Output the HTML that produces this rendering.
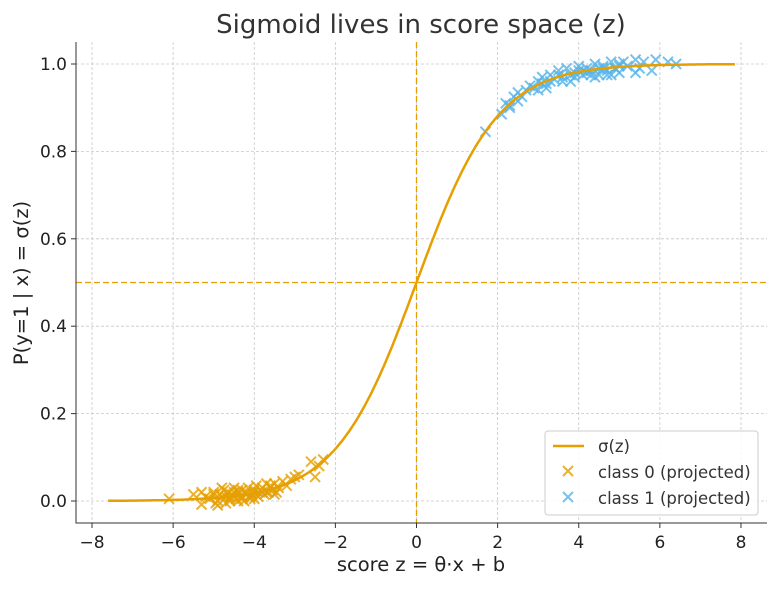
<!DOCTYPE html>
<html><head><meta charset="utf-8"><style>
body{margin:0;background:#fff}
svg{font-family:"DejaVu Sans","Liberation Sans",sans-serif}
</style></head><body>
<svg id="chart" width="779" height="586">
<text x="421" y="33" font-size="26" text-anchor="middle" fill="#333">Sigmoid lives in score space (z)</text>
<g id="grid"></g>
<g id="marks"></g>
<g id="axes"></g>
<text x="421" y="571" font-size="19.5" text-anchor="middle" fill="#222">score z = θ·x + b</text>
<text transform="translate(28,283) rotate(-90)" font-size="19.5" text-anchor="middle" fill="#222">P(y=1 | x) = σ(z)</text>
<g>
<rect x="545" y="431" width="213" height="84" rx="3" fill="#fff" fill-opacity="0.85" stroke="#ccc"/>
<line x1="553" y1="446" x2="584" y2="446" stroke="#E69F00" stroke-width="2.5"/>
<text x="598" y="452" font-size="16.5" fill="#333">σ(z)</text>
<path d="M563,466 l10,10 M573,466 l-10,10" stroke="#E69F00" stroke-width="2" opacity="0.8"/>
<text x="598" y="478" font-size="16.5" fill="#333">class 0 (projected)</text>
<path d="M563,492 l10,10 M573,492 l-10,10" stroke="#56B4E9" stroke-width="2" opacity="0.8"/>
<text x="598" y="504" font-size="16.5" fill="#333">class 1 (projected)</text>
</g>
</svg>
<script>
const xTicks=[-8,-6,-4,-2,0,2,4,6,8];
const yTicks=[0.0,0.2,0.4,0.6,0.8,1.0];
const class0Z=[-6.1,-5.5,-5.3,-5.2,-5.1,-5.0,-4.95,-4.9,-4.85,-4.8,-4.75,-4.7,-4.65,-4.6,-4.55,-4.5,-4.45,-4.4,-4.35,-4.3,-4.25,-4.2,-4.15,-4.1,-4.05,-4.0,-3.95,-3.9,-3.85,-3.8,-3.75,-3.7,-3.65,-3.6,-3.55,-3.5,-3.45,-3.4,-3.3,-3.2,-3.1,-3.0,-2.9,-2.6,-2.5,-2.4,-2.3,-4.9,-4.6,-4.3,-4.0,-3.7,-5.3,-4.8,-4.4,-4.7,-4.5,-4.2,-4.1,-3.9,-3.6,-3.5,-4.4,-4.6,-5.0,-4.3,-3.8,-4.0];
const class0Y=[0.005,0.015,-0.008,0.01,0.005,0.02,-0.005,0.0,0.015,0.01,0.025,-0.005,0.02,0.0,0.015,0.03,0.005,0.02,0.01,0.025,0.0,0.02,0.03,0.01,0.015,0.02,0.035,0.01,0.025,0.03,0.015,0.04,0.02,0.035,0.025,0.04,0.02,0.03,0.045,0.035,0.05,0.055,0.06,0.09,0.055,0.08,0.095,-0.01,0.005,0.01,0.005,0.02,0.02,0.03,0.0,0.01,0.02,0.015,0.005,0.02,0.03,0.015,0.025,0.01,0.015,0.005,0.02,0.025];
const class1Z=[1.7,2.1,2.2,2.3,2.4,2.5,2.6,2.8,2.9,3.0,3.1,3.2,3.3,3.4,3.5,3.6,3.7,3.8,3.9,4.0,4.1,4.2,4.3,4.4,4.5,4.6,4.7,4.8,4.9,5.0,5.1,5.2,5.4,5.5,5.6,5.8,5.9,6.2,6.4,3.2,3.6,4.0,4.4,4.8,5.0,4.2,3.8,2.5,3.0,5.4,3.3,3.5,3.9,4.1,4.3,4.5,4.7,4.9,3.1,2.7,2.3,4.6,5.0];
const class1Y=[0.845,0.885,0.91,0.9,0.925,0.935,0.925,0.95,0.945,0.96,0.97,0.955,0.975,0.965,0.985,0.97,0.99,0.96,0.98,0.995,0.975,0.99,0.985,1.0,0.975,0.995,0.985,1.005,0.99,0.98,1.005,0.995,1.01,0.99,1.005,0.985,1.01,1.005,1.0,0.945,0.96,0.985,0.97,0.975,1.0,0.98,0.975,0.915,0.94,0.98,0.96,0.975,0.97,0.985,0.975,0.99,0.975,0.99,0.955,0.94,0.905,0.99,0.995];
const curveZ=[];for(let z=-7.6;z<=7.86;z+=0.05)curveZ.push(z);
const X=z=>416.5+z*40.56, Y=p=>501-p*437;
const NS="http://www.w3.org/2000/svg";
function mk(tag,attrs,parent){const e=document.createElementNS(NS,tag);for(const k in attrs)e.setAttribute(k,attrs[k]);parent.appendChild(e);return e;}
const grid=document.getElementById('grid'),axes=document.getElementById('axes'),marks=document.getElementById('marks');
xTicks.forEach(t=>{
 const g=mk('line',{x1:X(t),x2:X(t),y1:42,y2:523,stroke:'#c8c8c8','stroke-dasharray':'3,2','stroke-width':0.8},grid);
 
 
 const tk=mk('line',{x1:X(t),x2:X(t),y1:523,y2:528,stroke:'#333'},axes);
 
 
 const tx=mk('text',{x:X(t),y:548,'font-size':17,'text-anchor':'middle',fill:'#222'},axes);
 tx.textContent=(t<0?'−':'')+Math.abs(t);
 
 
});
yTicks.forEach(t=>{
 const g=mk('line',{x1:76,x2:767,y1:Y(t),y2:Y(t),stroke:'#c8c8c8','stroke-dasharray':'3,2','stroke-width':0.8},grid);
 
 
 const tk=mk('line',{x1:71,x2:76,y1:Y(t),y2:Y(t),stroke:'#333'},axes);
 
 
 const tx=mk('text',{x:67,y:Y(t)+6,'font-size':17,'text-anchor':'end',fill:'#222'},axes);
 tx.textContent=t.toFixed(1);
 
 
});
const ax=mk('path',{d:'M76,42 V523 H767',fill:'none',stroke:'#333','stroke-width':1},axes);


const vl=mk('line',{x1:X(0),x2:X(0),y1:42,y2:523,stroke:'#E69F00','stroke-dasharray':'6,3','stroke-width':1.3},marks);


const hl=mk('line',{x1:76,x2:767,y1:Y(0.5),y2:Y(0.5),stroke:'#E69F00','stroke-dasharray':'6,3','stroke-width':1.3},marks);


function cross(z,p,c,name){
 const x=X(z),y=Y(p);
 const e=mk('path',{d:`M${x-5},${y-5} l10,10 M${x+5},${y-5} l-10,10`,stroke:c,'stroke-width':2,opacity:0.8},marks);
 
 
}
class0Z.forEach((z,i)=>cross(z,class0Y[i],'#E69F00','class0-point'));
class1Z.forEach((z,i)=>cross(z,class1Y[i],'#56B4E9','class1-point'));
const d=curveZ.map((z,i)=>(i?'L':'M')+X(z).toFixed(1)+','+Y(1/(1+Math.exp(-z))).toFixed(1)).join(' ');
const cv=mk('path',{d:d,fill:'none',stroke:'#E69F00','stroke-width':2.5},marks);


</script>
</body></html>
